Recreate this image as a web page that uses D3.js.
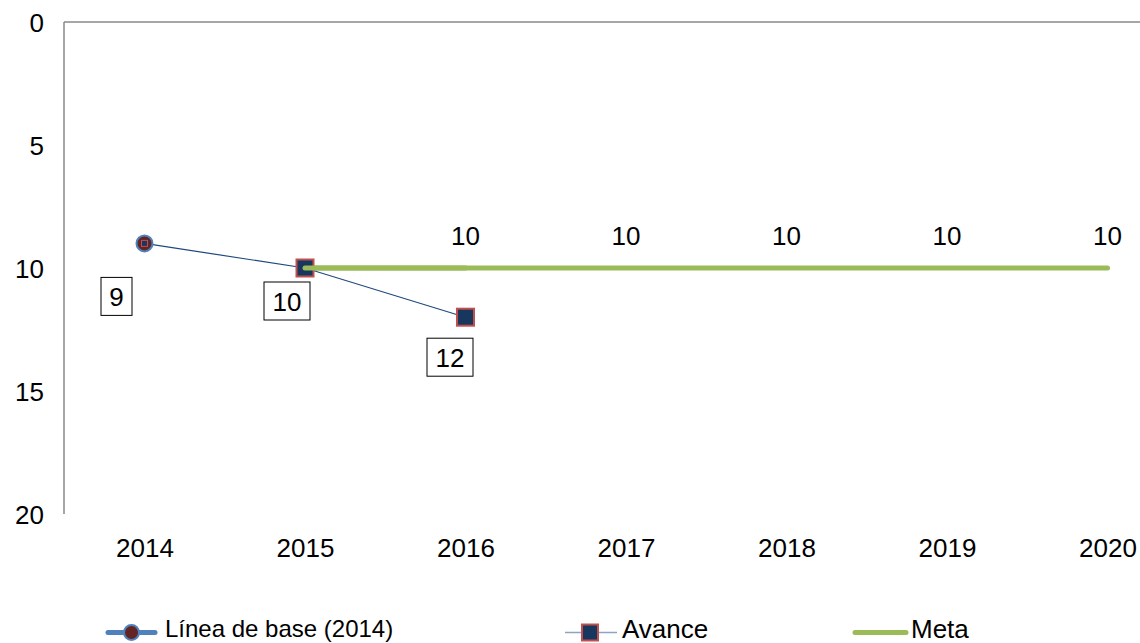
<!DOCTYPE html>
<html>
<head>
<meta charset="utf-8">
<script src="https://cdn.jsdelivr.net/npm/d3@7"></script>
<style>
  body { margin: 0; background: #fff; }
  text { font-family: "Liberation Sans", Arial, sans-serif; fill: #000; }
</style>
</head>
<body>
<svg width="1140" height="643"></svg>
<script>
const years = ['2014', '2015', '2016', '2017', '2018', '2019', '2020']
const baseline = [{ year: '2014', value: 9 }]
const avance = [{ year: '2014', value: 9 }, { year: '2015', value: 10 }, { year: '2016', value: 12 }]
const meta = [
  { year: '2015', value: 10 }, { year: '2016', value: 10 }, { year: '2017', value: 10 },
  { year: '2018', value: 10 }, { year: '2019', value: 10 }, { year: '2020', value: 10 }
]
const yTicks = [0, 5, 10, 15, 20]

const svg = d3.select('svg')

const plotLeft = 64
const plotTop = 22
const plotBottom = 514
const fs = '26px'

const x = d3.scalePoint()
  .domain(years)
  .range([plotLeft + 80.5, plotLeft + 80.5 + 6 * 160.5])

const y = d3.scaleLinear()
  .domain([0, 20])
  .range([plotTop, plotBottom])

// frame: left axis + top line
svg.append('line')
  .attr('x1', plotLeft).attr('x2', plotLeft)
  .attr('y1', plotTop).attr('y2', plotBottom)
  .attr('stroke', '#888').attr('stroke-width', 1.5)
svg.append('line')
  .attr('x1', plotLeft).attr('x2', 1140)
  .attr('y1', plotTop).attr('y2', plotTop)
  .attr('stroke', '#888').attr('stroke-width', 1.5)

const yAxis = svg.append('g')
  .attr('transform', `translate(${plotLeft}, 0)`)
  .call(d3.axisLeft(y).tickValues(yTicks).tickSize(0).tickPadding(20))
yAxis.select('.domain').remove()
yAxis.selectAll('text')
  .attr('dy', '0.36em')
  .style('font-size', fs)
  .style('font-family', '"Liberation Sans", Arial, sans-serif')
  .attr('fill', '#000')

const xAxis = svg.append('g')
  .attr('transform', `translate(0, ${plotBottom})`)
  .call(d3.axisBottom(x).tickSize(0).tickPadding(0))
xAxis.select('.domain').remove()
xAxis.selectAll('text')
  .attr('y', 43)
  .attr('dy', 0)
  .style('font-size', fs)
  .style('font-family', '"Liberation Sans", Arial, sans-serif')
  .attr('fill', '#000')

const line = d3.line()
  .x(d => x(d.year))
  .y(d => y(d.value))

// meta
svg.append('path')
  .datum(meta)
  .attr('d', line)
  .attr('fill', 'none')
  .attr('stroke', '#9BBB59')
  .attr('stroke-width', 5)
  .attr('stroke-linecap', 'round')

// avance
svg.append('path')
  .datum(avance)
  .attr('d', line)
  .attr('fill', 'none')
  .attr('stroke', '#1F497D')
  .attr('stroke-width', 1.2)

// baseline marker
svg.selectAll('.base')
  .data(baseline)
  .join('circle')
  .attr('cx', d => x(d.year))
  .attr('cy', d => y(d.value))
  .attr('r', 8)
  .attr('fill', '#632523')
  .attr('stroke', '#4F81BD')
  .attr('stroke-width', 2)

// avance markers
const sq = 17
svg.selectAll('.av')
  .data(avance)
  .join('rect')
  .attr('x', (d, i) => x(d.year) - (i === 0 ? 3 : sq / 2))
  .attr('y', (d, i) => y(d.value) - (i === 0 ? 3 : sq / 2))
  .attr('width', (d, i) => i === 0 ? 6 : sq)
  .attr('height', (d, i) => i === 0 ? 6 : sq)
  .attr('fill', '#17375E')
  .attr('stroke', '#C0504D')
  .attr('stroke-width', (d, i) => i === 0 ? 1 : 2)

// green start drawn over the 2015 square
svg.append('path')
  .datum(meta.slice(0, 2))
  .attr('d', line)
  .attr('fill', 'none')
  .attr('stroke', '#9BBB59')
  .attr('stroke-width', 5)
  .attr('stroke-linecap', 'round')

// boxed labels
const boxed = [
  { year: '2014', value: 9, dx: -28, dy: 53, w: 31 },
  { year: '2015', value: 10, dx: -18, dy: 33, w: 46 },
  { year: '2016', value: 12, dx: -15.5, dy: 40, w: 46 }
]
boxed.forEach(b => {
  const cx = x(b.year) + b.dx
  const cy = y(b.value) + b.dy
  svg.append('rect')
    .attr('x', cx - b.w / 2).attr('y', cy - 19)
    .attr('width', b.w).attr('height', 38)
    .attr('fill', '#fff').attr('stroke', '#000').attr('stroke-width', 1)
  svg.append('text')
    .attr('x', cx).attr('y', cy + 9.5)
    .attr('text-anchor', 'middle')
    .style('font-size', fs)
    .text(b.value)
})

// meta labels
svg.selectAll('.ml')
  .data(meta.slice(1))
  .join('text')
  .attr('x', d => x(d.year))
  .attr('y', d => y(d.value) - 23)
  .attr('text-anchor', 'middle')
  .style('font-size', fs)
  .text(d => d.value)

// legend
const ly = 632.5
const lg = svg.append('g')
lg.append('line').attr('x1', 108).attr('x2', 155).attr('y1', ly).attr('y2', ly)
  .attr('stroke', '#4F81BD').attr('stroke-width', 5).attr('stroke-linecap', 'round')
lg.append('circle').attr('cx', 131.5).attr('cy', ly).attr('r', 7.5)
  .attr('fill', '#632523').attr('stroke', '#4F81BD').attr('stroke-width', 2)
lg.append('text').attr('x', 165).attr('y', 637).style('font-size', '24px').text('Línea de base (2014)')

lg.append('line').attr('x1', 565).attr('x2', 617).attr('y1', ly).attr('y2', ly)
  .attr('stroke', '#8EA4C0').attr('stroke-width', 1.5)
lg.append('rect').attr('x', 582).attr('y', ly - 8).attr('width', 16).attr('height', 16)
  .attr('fill', '#17375E').attr('stroke', '#C0504D').attr('stroke-width', 2)
lg.append('text').attr('x', 622).attr('y', 638).style('font-size', '26px').text('Avance')

lg.append('line').attr('x1', 855).attr('x2', 906).attr('y1', ly).attr('y2', ly)
  .attr('stroke', '#9BBB59').attr('stroke-width', 5).attr('stroke-linecap', 'round')
lg.append('text').attr('x', 911).attr('y', 638).style('font-size', '26px').text('Meta')
</script>
</body>
</html>
